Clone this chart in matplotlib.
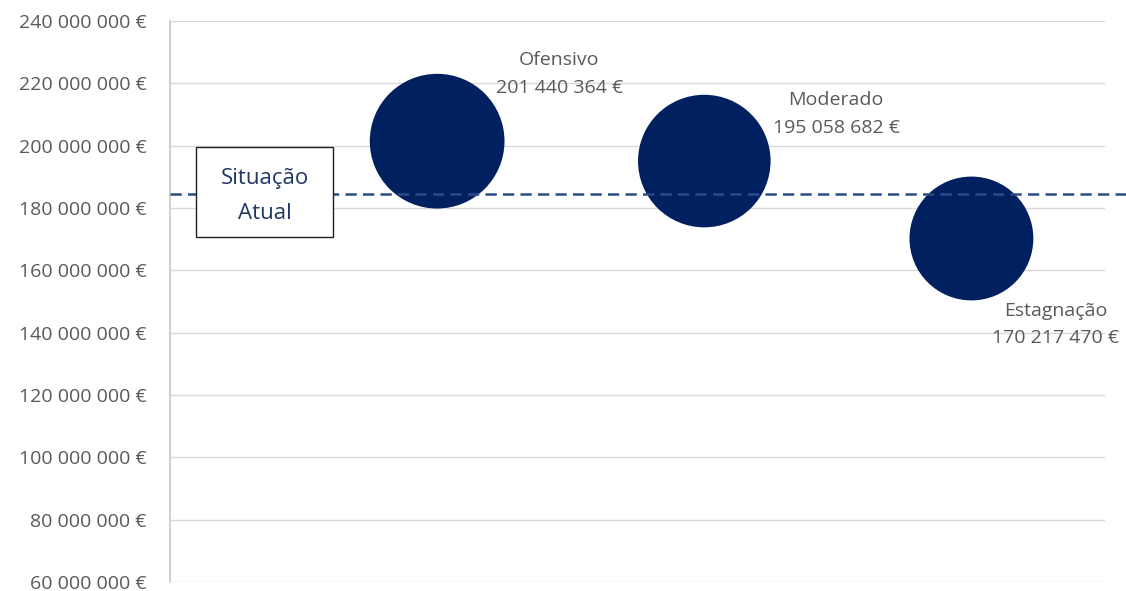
import matplotlib
matplotlib.use("Agg")
import matplotlib.pyplot as plt
from matplotlib.patches import Rectangle
from matplotlib.ticker import FuncFormatter, MultipleLocator
import matplotlib.transforms as mtransforms

# cenários de faturação
cenarios = ["Ofensivo", "Moderado", "Estagnação"]
posicao = [1, 2, 3]
valores = [201440364, 195058682, 170217470]
situacao_atual = 184500000

# deslocamento das etiquetas (pixels) em relação ao centro de cada bolha
offsets = [(122, 67), (132, 47), (84, -86)]

plt.rcParams["font.family"] = ["Open Sans", "DejaVu Sans"]

BLUE = "#002060"
GREY = "#595959"

fig = plt.figure(figsize=(11.26, 5.91), dpi=100)
ax = fig.add_axes([170 / 1126, 9 / 591, 935 / 1126, 561 / 591])

# tamanho da bolha proporcional ao valor (área)
ref_d = 97.0
sizes = [(ref_d ** 2) * v / max(valores) for v in valores]
ax.scatter(posicao, valores, s=sizes, color=BLUE, zorder=3, linewidths=0)

for x, v, nome, (dx, dy) in zip(posicao, valores, cenarios, offsets):
    txt = f"{nome}\n{v:,.0f} €".replace(",", " ")
    ax.annotate(txt, (x, v), xytext=(dx, dy), textcoords="offset pixels",
                ha="center", va="center", fontsize=14, color=GREY,
                linespacing=1.7, zorder=5)

# linha da situação atual, prolongada até à margem direita
trans = mtransforms.blended_transform_factory(ax.transAxes, ax.transData)
ax.plot([0, (1126 - 170) / 935], [situacao_atual, situacao_atual],
        transform=trans, clip_on=False, color="#2B4C85", lw=1.8,
        dashes=(4.5, 2.5), zorder=4)

box = Rectangle((26 / 935, 345 / 561), 137 / 935, 90 / 561,
                transform=ax.transAxes, facecolor="white",
                edgecolor="#202020", lw=1.0, zorder=6)
ax.add_patch(box)
ax.text(95 / 935, 386 / 561, "Situação\nAtual", transform=ax.transAxes,
        ha="center", va="center", fontsize=16, color="#1F3864",
        linespacing=1.85, zorder=7)

ax.set_xlim(0, 3.5)
ax.set_ylim(60000000, 240000000)
ax.yaxis.set_major_locator(MultipleLocator(20000000))
ax.yaxis.set_major_formatter(
    FuncFormatter(lambda v, _: f"{v:,.0f} €".replace(",", " ")))
ax.set_xticks([])
ax.tick_params(axis="y", length=0, pad=17, labelsize=14, labelcolor=GREY)
ax.grid(axis="y", color="#D9D9D9", lw=1.0, zorder=0)
ax.set_axisbelow(True)
for s in ["top", "right", "bottom"]:
    ax.spines[s].set_visible(False)
ax.spines["left"].set_color("#C8C8C8")
ax.spines["left"].set_linewidth(1.2)

fig.savefig("out.png", dpi=100)
